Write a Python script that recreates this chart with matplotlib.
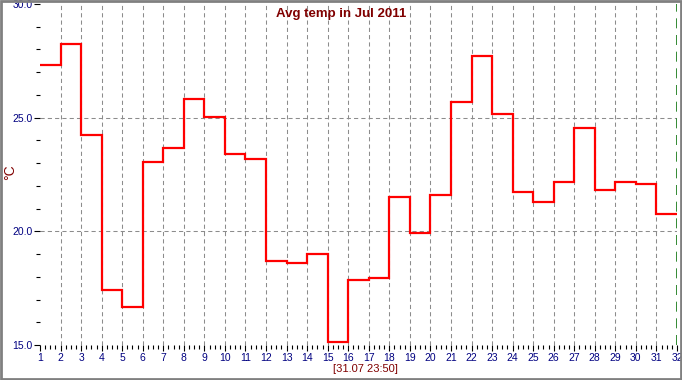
import matplotlib
matplotlib.use("Agg")
import matplotlib.pyplot as plt
from matplotlib.patches import Rectangle
from matplotlib.ticker import MultipleLocator, FormatStrFormatter

# srednie dzienne, lipiec 2011
days = list(range(1, 32))
temps = [27.31, 28.24, 24.22, 17.43, 16.68, 23.03, 23.65, 25.81, 25.02, 23.38,
         23.16, 18.71, 18.62, 19.02, 15.13, 17.87, 17.96, 21.53, 19.94, 21.62,
         25.68, 27.71, 25.15, 21.75, 21.27, 22.15, 24.53, 21.84, 22.15, 22.10,
         20.78]
x_ticks = list(range(1, 33))
y_ticks = [15.0, 20.0, 25.0, 30.0]
title = "Avg temp in Jul 2011"
stamp = "[31.07 23:50]"

plt.rcParams["font.family"] = ["Liberation Sans", "DejaVu Sans"]
DARKRED = "#800000"
NAVY = "#000080"

fig = plt.figure(figsize=(6.82, 3.80), dpi=100)
ax = fig.add_axes([40 / 682, 1 - 345 / 380, 637 / 682, 341 / 380])

edges = days + [days[-1] + 1]
ax.stairs(temps, edges, baseline=None, color="#ff0000", lw=1.6, zorder=3)

ax.set_xlim(1, 32)
ax.set_ylim(15, 30)

# siatka
for d in x_ticks[1:-1]:
    ax.axvline(d, color="#8c8c8c", lw=0.75, ls=(0, (4, 3)), zorder=1)
for v in y_ticks[1:-1]:
    ax.axhline(v, color="#8c8c8c", lw=0.75, ls=(0, (4, 3)), zorder=1)
ax.axvline(32, color="#117711", lw=1.2, ls=(0, (6, 4)), zorder=2)

for s in ax.spines.values():
    s.set_visible(False)

ax.set_xticks(x_ticks)
ax.set_yticks(y_ticks)
ax.xaxis.set_minor_locator(MultipleLocator(0.25))
ax.yaxis.set_minor_locator(MultipleLocator(1))
ax.yaxis.set_major_formatter(FormatStrFormatter("%.1f"))
ax.tick_params(which="major", direction="out", length=4.5, width=0.8,
               labelsize=7.5, labelcolor=NAVY, pad=1)
ax.tick_params(which="minor", direction="out", length=2.8, width=0.8)

fig.text(341 / 682, 1 - 14 / 380, title, ha="center", va="center",
         fontsize=9.5, fontweight="bold", color=DARKRED)
fig.text(10 / 682, 1 - 172 / 380, "°C", rotation=90, ha="center", va="center",
         fontsize=10, color=DARKRED)
fig.text(365 / 682, 1 - 369 / 380, stamp, ha="center", va="center",
         fontsize=8, color=DARKRED)

# ramka
fig.patches.append(Rectangle((0.001, 0.003), 0.997, 0.995, transform=fig.transFigure,
                             fill=False, edgecolor="#808080", lw=2))

fig.savefig("out.png", dpi=100)
